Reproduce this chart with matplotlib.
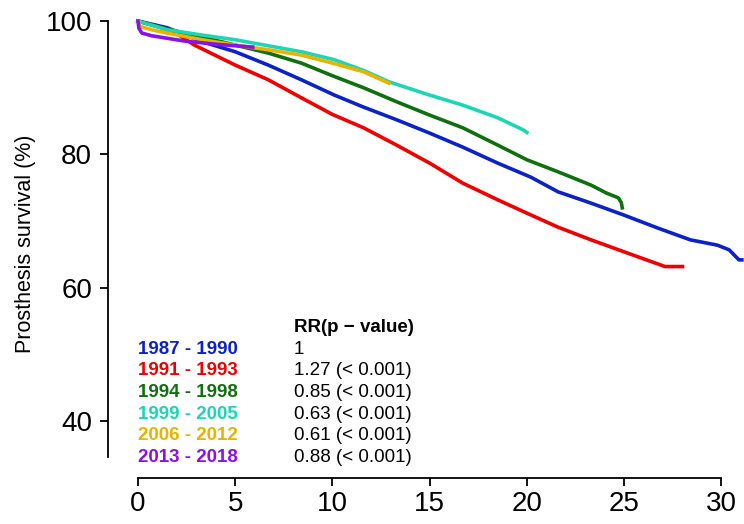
import matplotlib.pyplot as plt

plt.rcParams['font.family'] = ['Liberation Sans', 'DejaVu Sans']

# Kaplan-Meier style survival estimates per period (years, % surviving)
periods = ["1987 - 1990", "1991 - 1993", "1994 - 1998",
           "1999 - 2005", "2006 - 2012", "2013 - 2018"]
rr_labels = ["1", "1.27 (< 0.001)", "0.85 (< 0.001)",
             "0.63 (< 0.001)", "0.61 (< 0.001)", "0.88 (< 0.001)"]
colors = ["#0A22C8", "#F00000", "#0F700F", "#1CD6B6", "#E8B400", "#8A10F0"]

t_1987 = [0, 1.5, 3.3, 5.0, 6.7, 8.4, 10.1, 11.6, 13.3, 15.0, 16.7, 18.5,
          20.2, 21.6, 23.3, 25.0, 26.7, 28.4, 29.8, 30.4, 30.9, 31.05]
s_1987 = [100, 99.0, 96.9, 95.4, 93.4, 91.2, 88.9, 87.1, 85.2, 83.2, 81.1,
          78.7, 76.6, 74.4, 72.7, 70.9, 69.0, 67.2, 66.4, 65.7, 64.2, 64.2]

t_1991 = [0, 1.0, 2.0, 2.9, 5.0, 6.7, 8.4, 10.0, 11.6, 13.3, 15.0, 16.7,
          18.5, 20.0, 21.6, 23.3, 25.0, 27.1, 28.0]
s_1991 = [100, 99.2, 98.1, 96.4, 93.4, 91.2, 88.5, 86.0, 84.0, 81.4, 78.7,
          75.7, 73.2, 71.2, 69.1, 67.2, 65.4, 63.2, 63.2]

t_1994 = [0, 1.5, 3.3, 5.0, 6.7, 8.4, 10.0, 11.6, 13.3, 15.0, 16.7, 18.5,
          20.0, 21.6, 23.3, 24.1, 24.7, 24.85, 24.9]
s_1994 = [100, 98.8, 97.6, 96.4, 95.2, 93.7, 91.8, 90.0, 87.9, 85.9, 84.0,
          81.4, 79.2, 77.4, 75.4, 74.2, 73.5, 72.8, 72.0]

t_1999 = [0, 1.5, 3.3, 5.0, 6.7, 8.4, 10.1, 11.6, 12.9, 15.0, 16.7, 18.5,
          19.8, 20.0]
s_1999 = [100, 98.7, 97.9, 97.2, 96.3, 95.4, 94.2, 92.6, 90.9, 88.9, 87.4,
          85.5, 83.7, 83.3]

t_2006 = [0, 0.1, 0.7, 1.5, 3.3, 5.0, 6.7, 8.4, 10.0, 11.6, 12.9]
s_2006 = [100, 99.2, 98.7, 98.2, 97.2, 96.4, 95.7, 94.9, 93.7, 92.4, 90.7]

t_2013 = [0, 0.05, 0.2, 0.7, 2.4, 4.1, 5.9]
s_2013 = [100, 98.9, 98.2, 97.8, 97.0, 96.5, 96.1]

times = [t_1987, t_1991, t_1994, t_1999, t_2006, t_2013]
surv = [s_1987, s_1991, s_1994, s_1999, s_2006, s_2013]

fig = plt.figure(figsize=(7.44, 5.24), dpi=100)
ax = fig.add_axes([0.1452, 0.0878, 0.8548, 0.893])

for t, s, c in zip(times, surv, colors):
    ax.plot(t, s, color=c, lw=2.6, solid_joinstyle='round', clip_on=False)

ax.set_xlim(-1.54, 31.16)
ax.set_ylim(31.5, 101.65)

# base-graphics look: detached axis lines, outward ticks
for side in ['top', 'right']:
    ax.spines[side].set_visible(False)
ax.spines['left'].set_bounds(34.6, 100)
ax.spines['bottom'].set_bounds(0, 30)
ax.spines['left'].set_linewidth(1.3)
ax.spines['bottom'].set_linewidth(1.3)

ax.set_xticks([0, 5, 10, 15, 20, 25, 30])
ax.set_yticks([40, 60, 80, 100])
ax.tick_params(axis='both', labelsize=20, length=6, width=1.3)
ax.tick_params(axis='x', pad=3.5)
ax.tick_params(axis='y', pad=5.5)
ax.set_ylabel("Prosthesis survival (%)", fontsize=15.5, labelpad=7)

# period labels with relative risks
ax.text(8.0, 54.1, "RR(p \u2212 value)", fontsize=13.5, fontweight='bold',
        va='center', ha='left')
for i, (lab, rr, c) in enumerate(zip(periods, rr_labels, colors)):
    y = 50.8 - i * 3.25
    ax.text(0, y, lab, color=c, fontsize=13.5, fontweight='bold',
            va='center', ha='left')
    ax.text(8.0, y, rr, color='black', fontsize=13.5, va='center', ha='left')

fig.savefig("out.png", dpi=100)
